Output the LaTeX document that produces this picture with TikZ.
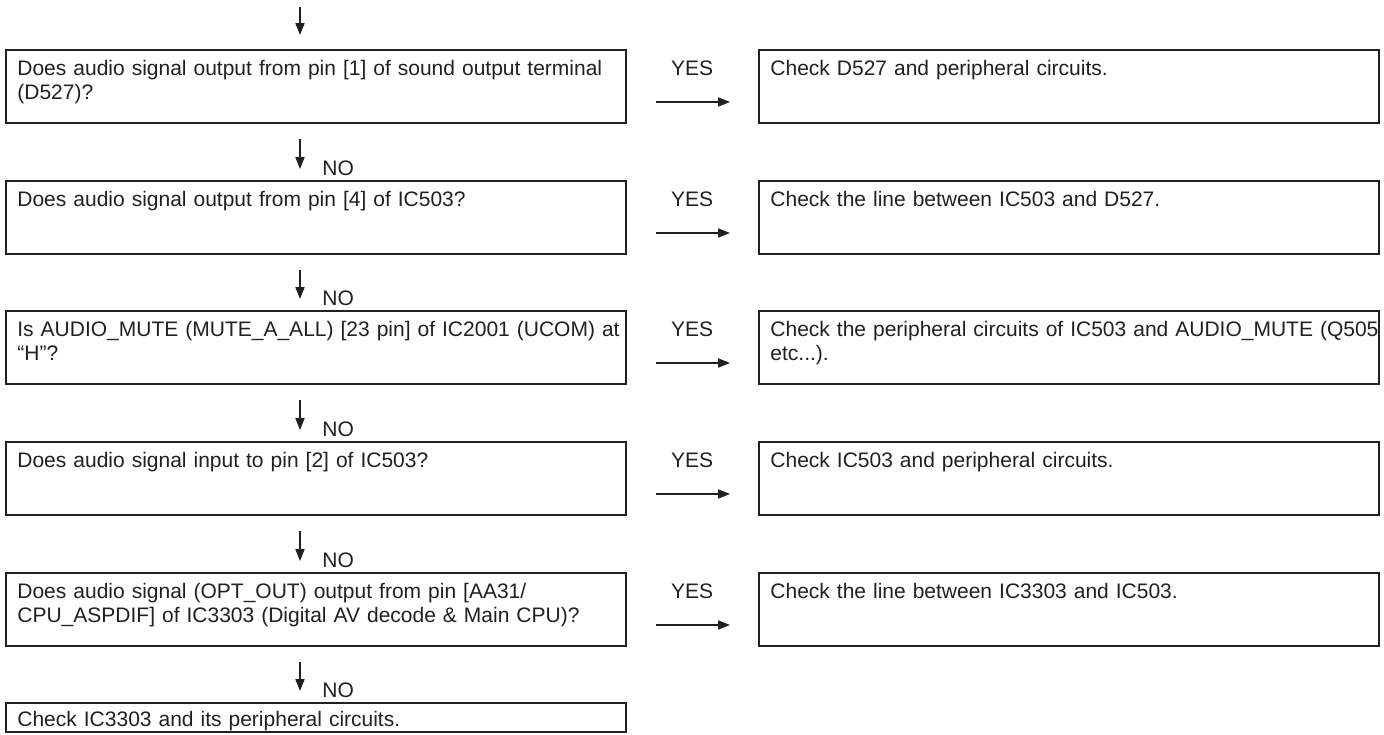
\documentclass[tikz,border=0pt]{standalone}
\usepackage{fontspec}
\setmainfont{Liberation Sans}
\usetikzlibrary{arrows.meta,calc}
\definecolor{ink}{HTML}{231F20}
\begin{document}
\begin{tikzpicture}[x=0.5pt,y=-0.5pt,
  every node/.style={font=\fontsize{10.5pt}{12pt}\selectfont, text=ink},
  box/.style={draw=ink, line width=1.3pt, minimum width=310pt, minimum height=36.5pt, anchor=north west, inner sep=0pt, outer sep=0pt},
  lastbox/.style={box, minimum height=14.5pt},
  txt/.style={anchor=north west, inner sep=0pt, align=left, text width=305pt},
  arr/.style={draw=ink, line width=0.6pt, -{Triangle[length=6pt,width=4.6pt]}},
  lbl/.style={inner sep=0pt}
]
\useasboundingbox (0,0) rectangle (1384,734);

% left boxes
\node[box] (l1) at (6,50) {};
\node[box] (l2) at (6,181) {};
\node[box] (l3) at (6,311) {};
\node[box] (l4) at (6,442) {};
\node[box] (l5) at (6,573) {};
\node[lastbox] (l6) at (6,703) {};

% right boxes
\node[box] (r1) at (759,50) {};
\node[box] (r2) at (759,181) {};
\node[box] (r3) at (759,311) {};
\node[box] (r4) at (759,442) {};
\node[box] (r5) at (759,573) {};

% left texts
\node[txt] (lt1) at ($(l1.north west)+(11,10)$) {Does audio signal output from pin [1] of sound output terminal\\(D527)?};
\node[txt] (lt2) at ($(l2.north west)+(11,10)$) {Does audio signal output from pin [4] of IC503?};
\node[txt] (lt3) at ($(l3.north west)+(11,10)$) {Is AUDIO\_MUTE (MUTE\_A\_ALL) [23 pin] of IC2001 (UCOM) at\\“H”?};
\node[txt] (lt4) at ($(l4.north west)+(11,10)$) {Does audio signal input to pin [2] of IC503?};
\node[txt] (lt5) at ($(l5.north west)+(11,10)$) {Does audio signal (OPT\_OUT) output from pin [AA31/\\CPU\_ASPDIF] of IC3303 (Digital AV decode \& Main CPU)?};
\node[txt] (lt6) at ($(l6.north west)+(11,8)$) {Check IC3303 and its peripheral circuits.};

% right texts
\node[txt] (rt1) at ($(r1.north west)+(11,10)$) {Check D527 and peripheral circuits.};
\node[txt] (rt2) at ($(r2.north west)+(11,10)$) {Check the line between IC503 and D527.};
\node[txt] (rt3) at ($(r3.north west)+(11,10)$) {Check the peripheral circuits of IC503 and AUDIO\_MUTE (Q505\\etc...).};
\node[txt] (rt4) at ($(r4.north west)+(11,10)$) {Check IC503 and peripheral circuits.};
\node[txt] (rt5) at ($(r5.north west)+(11,10)$) {Check the line between IC3303 and IC503.};

% top entry arrow
\coordinate (start) at (300,7);
\draw[arr, shorten >=7.5pt] (start) -- (start |- l1.north);

% NO arrows and labels
\foreach \a/\b in {l1/l2, l2/l3, l3/l4, l4/l5, l5/l6}{
  \draw[arr, shorten <=8pt, shorten >=6pt] ($(\a.south west)+(294,0)$) -- ($(\b.north west)+(294,0)$);
  \node[lbl, anchor=base west] (no\b) at ($(\b.north west)+(316,-6)$) {NO};
}

% YES arrows and labels
\foreach \i in {1,...,5}{
  \draw[arr] ($(l\i.north east)+(30,52)$) -- ($(r\i.north west)+(-29,52)$);
  \node[lbl, anchor=north] (yes\i) at ($(l\i.north east)+(66,10)$) {YES};
}
\end{tikzpicture}
\end{document}
